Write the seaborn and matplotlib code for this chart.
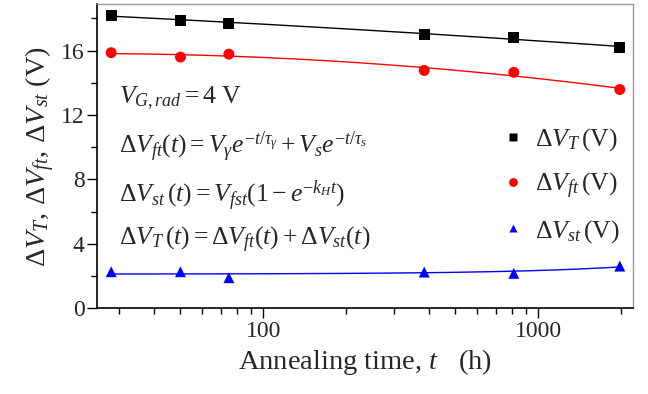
import numpy as np
import pandas as pd
import matplotlib
matplotlib.use("Agg")
import matplotlib.pyplot as plt
import matplotlib.ticker as mticker
import seaborn as sns

# annealing time (h) and measured shifts (V)
t_hours = [28, 50, 75, 385, 815, 1980]
dv_total = [18.19, 17.90, 17.70, 17.03, 16.82, 16.20]
dv_ft = [15.87, 15.60, 15.78, 14.77, 14.65, 13.58]
dv_st = [2.26, 2.26, 1.89, 2.24, 2.16, 2.61]

series_names = [r"$\Delta V_{T}\,(\mathrm{V})$", r"$\Delta V_{ft}\,(\mathrm{V})$", r"$\Delta V_{st}\,(\mathrm{V})$"]
series_vals = [dv_total, dv_ft, dv_st]
colors = ["black", "red", "blue"]
markers = ["s", "o", "^"]

sns.set_theme(style="ticks")
plt.rcParams["font.family"] = ["Liberation Serif", "DejaVu Serif"]
plt.rcParams["mathtext.fontset"] = "custom"
plt.rcParams["mathtext.rm"] = "Liberation Serif"
plt.rcParams["mathtext.it"] = "Liberation Serif:italic"
plt.rcParams["mathtext.bf"] = "Liberation Serif:bold"

rows = []
for name, vals in zip(series_names, series_vals):
    for t, v in zip(t_hours, vals):
        rows.append({"t": t, "value": v, "series": name})
df = pd.DataFrame(rows)

fig = plt.figure(figsize=(6.48, 3.94), dpi=100)
ax = fig.add_axes([0.150, 0.218, 0.827, 0.772])

# smooth fit curves: decaying parts quadratic in log t, slow part linear in t
t_fine = np.logspace(np.log10(t_hours[0]), np.log10(t_hours[-1]), 200)
lt = np.log10(t_hours)
fits = [
    np.poly1d(np.polyfit(lt, dv_total, 2))(np.log10(t_fine)),
    np.poly1d(np.polyfit(lt, dv_ft, 2))(np.log10(t_fine)),
    np.poly1d(np.polyfit(t_hours, dv_st, 1))(t_fine),
]
for fit_vals, c in zip(fits, colors):
    fit = pd.DataFrame({"t": t_fine, "v": fit_vals})
    sns.lineplot(data=fit, x="t", y="v", color=c, lw=1.0, ax=ax, legend=False)

sns.scatterplot(data=df, x="t", y="value", hue="series", style="series",
                palette=dict(zip(series_names, colors)),
                markers=dict(zip(series_names, markers)),
                s=62, edgecolor="none", ax=ax, zorder=3)

ax.set_xscale("log")
ax.set_xlim(24.9, 2213)
ax.set_ylim(0, 18.9)
ax.xaxis.set_major_locator(mticker.FixedLocator([100, 1000]))
ax.xaxis.set_major_formatter(mticker.FixedFormatter(["100", "1000"]))
ax.xaxis.set_minor_locator(mticker.LogLocator(base=10, subs=np.arange(2, 10)))
ax.xaxis.set_minor_formatter(mticker.NullFormatter())
ax.yaxis.set_major_locator(mticker.MultipleLocator(4))
ax.yaxis.set_minor_locator(mticker.MultipleLocator(2))
ax.tick_params(which="both", direction="out", top=False, right=False, labelsize=17,
               color="black", pad=2)
ax.tick_params(which="major", length=7, width=1)
ax.tick_params(which="minor", length=4, width=1)
for s in ["left", "bottom"]:
    ax.spines[s].set_color("black")
    ax.spines[s].set_linewidth(1.2)
for s in ["top", "right"]:
    ax.spines[s].set_color("#999999")
    ax.spines[s].set_linewidth(1.0)

ax.set_xlabel(r"Annealing time, $t$   (h)", fontsize=20.5, labelpad=4)
ax.set_ylabel(r"$\Delta V_{T},\, \Delta V_{ft},\, \Delta V_{st}\ (\mathrm{V})$", fontsize=20.5, labelpad=3)

fs = 18.5
ax.text(0.04, 0.674, r"$V_{G,rad} = 4\ \mathrm{V}$", transform=ax.transAxes, fontsize=fs, va="baseline")
ax.text(0.04, 0.51, r"$\Delta V_{ft}(t) = V_{\gamma}e^{-t/\tau_{\gamma}} + V_{s}e^{-t/\tau_{s}}$",
        transform=ax.transAxes, fontsize=fs, va="baseline")
ax.text(0.04, 0.349, r"$\Delta V_{st}\,(t) = V_{fst}(1 - e^{-k_{H}t})$", transform=ax.transAxes,
        fontsize=fs, va="baseline")
ax.text(0.04, 0.207, r"$\Delta V_{T}\,(t) = \Delta V_{ft}(t) + \Delta V_{st}(t)$", transform=ax.transAxes,
        fontsize=fs, va="baseline")

leg = ax.legend(loc="center right", bbox_to_anchor=(0.998, 0.403), frameon=False, fontsize=18.5,
                handlelength=0.8, handletextpad=0.45, labelspacing=0.68, markerscale=0.8, borderpad=0)

fig.savefig("out.png", dpi=100)
